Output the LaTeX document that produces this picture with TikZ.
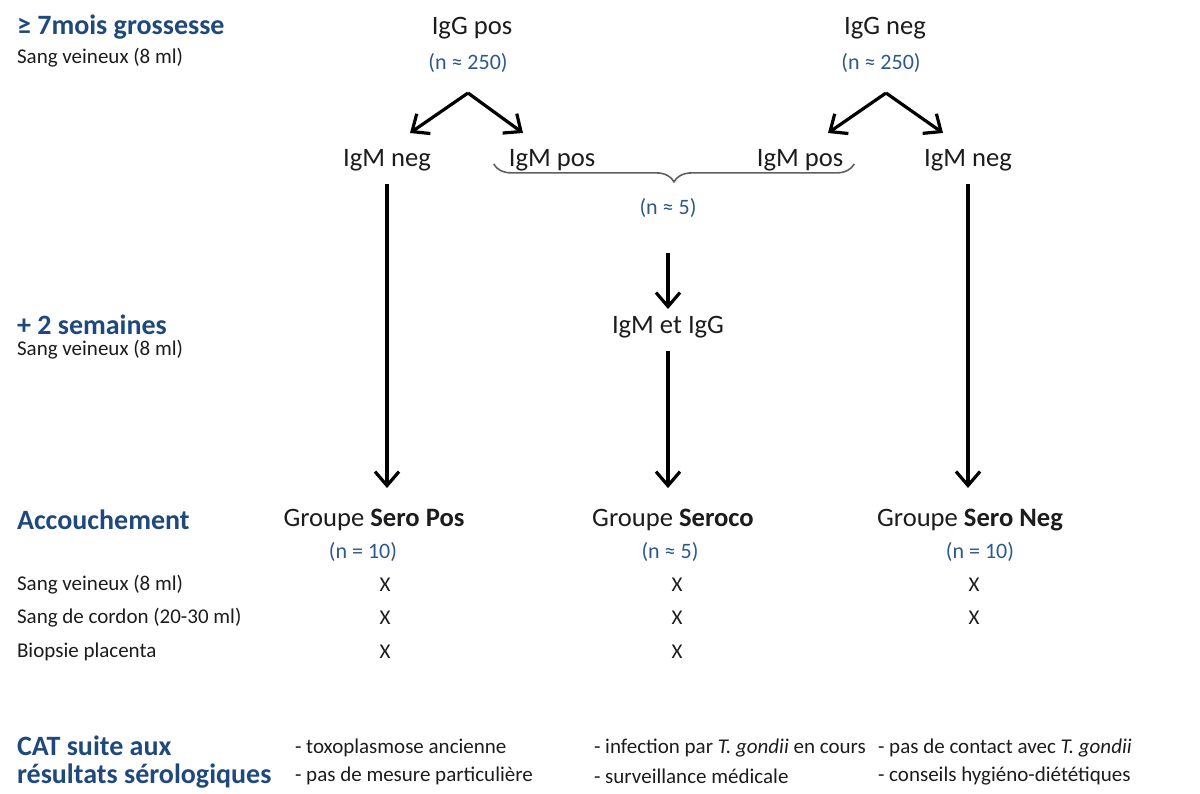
\documentclass[tikz,border=0pt]{standalone}
\usepackage{fontspec}
\setmainfont{Carlito}
\usepackage{tikz}
\usetikzlibrary{arrows.meta,decorations.pathreplacing}
\definecolor{TitleBlue}{RGB}{31,73,125}
\definecolor{CountBlue}{RGB}{45,88,140}
\definecolor{InkGrey}{RGB}{28,28,28}
\definecolor{BraceGrey}{RGB}{95,95,95}
\newcommand{\prelev}[3]{\node (mark-#1) at (#2,#3) {X};}

\begin{document}
\begin{tikzpicture}[x=0.5pt,y=-0.5pt,font=\fontsize{10.5}{12}\selectfont,
  every node/.style={text=InkGrey},
  lefthead/.style={anchor=west,font=\fontsize{14}{16}\selectfont\bfseries,text=TitleBlue},
  leftnote/.style={anchor=west},
  result/.style={font=\fontsize{13.3}{15}\selectfont},
  count/.style={font=\fontsize{11}{13}\selectfont,text=CountBlue},
  fork/.style={line width=1.6pt,-{Straight Barb[length=7pt,width=12pt]}}]
\useasboundingbox (0,0) rectangle (1200,793);
% left column
\node[lefthead] (h-grossesse) at (10,27) {≥ 7mois grossesse};
\node[leftnote] (s-grossesse) at (10,58) {Sang veineux (8 ml)};
\node[lefthead] (h-semaines) at (10,325) {+ 2 semaines};
\node[leftnote] (s-semaines) at (10,350) {Sang veineux (8 ml)};
\node[lefthead] (h-accouch) at (10,520) {Accouchement};
\node[leftnote] (r-veineux) at (10,585) {Sang veineux (8 ml)};
\node[leftnote] (r-cordon) at (10,618) {Sang de cordon (20-30 ml)};
\node[leftnote] (r-biopsie) at (10,652) {Biopsie placenta};
\node[lefthead] (h-cat) at (10,746) {CAT suite aux};
\node[lefthead] (h-resultats) at (10,776) {résultats sérologiques};
% first test
\node[result] (igg-pos) at (472,28) {IgG pos};
\node[count] (n-pos) at (468,63) {(n ≈ 250)};
\node[result] (igg-neg) at (885,28) {IgG neg};
\node[count] (n-neg) at (881,63) {(n ≈ 250)};
\node[result] (igm-negL) at (387,160) {IgM neg};
\node[result] (igm-posL) at (552,160) {IgM pos};
\node[result] (igm-posR) at (800,160) {IgM pos};
\node[result] (igm-negR) at (968,160) {IgM neg};
\coordinate (fork-pos) at (468,93);
\coordinate (fork-neg) at (886,93);
\coordinate (to-negL) at (410,133);
\coordinate (to-posL) at (523,133);
\coordinate (to-posR) at (828,133);
\coordinate (to-negR) at (943,133);
\foreach \a/\b in {fork-pos/to-negL,fork-pos/to-posL,fork-neg/to-posR,fork-neg/to-negR}
  \draw[fork] (\a) -- (\b);
\draw[BraceGrey,line width=0.8pt,decorate,decoration={brace,mirror,amplitude=9pt}]
  ([xshift=-4pt,yshift=7pt]igm-posL.south west) -- ([xshift=2pt,yshift=7pt]igm-posR.south east);
\node[count] (n-five) at (668,208) {(n ≈ 5)};
% second test
\node[result] (igm-igg) at (668,327) {IgM et IgG};
\draw[fork,shorten <=14pt] (n-five) -- (igm-igg);
% groups
\node[result] (grp-pos) at (374,520) {Groupe \textbf{Sero Pos}};
\node[result] (grp-seroco) at (673,520) {Groupe \textbf{Seroco}};
\node[result] (grp-neg) at (970,520) {Groupe \textbf{Sero Neg}};
\draw[fork,shorten <=3pt,shorten >=7pt] (igm-negL.south) -- (igm-negL.south |- grp-pos.north);
\draw[fork,shorten <=3pt,shorten >=7pt] (igm-igg.south) -- (igm-igg.south |- grp-seroco.north);
\draw[fork,shorten <=3pt,shorten >=7pt] (igm-negR.south) -- (igm-negR.south |- grp-neg.north);
\node[count] (n-grp-pos) at (363,552) {(n = 10)};
\node[count] (n-grp-seroco) at (670,552) {(n ≈ 5)};
\node[count] (n-grp-neg) at (980,552) {(n = 10)};
\foreach \x/\y [count=\i] in {385/585,385/618,385/652,677/585,677/618,677/652,974/585,974/618}
  {\prelev{\i}{\x}{\y}}
% CAT
\node[leftnote] (cat-pos1) at (288,748) {- toxoplasmose ancienne};
\node[leftnote] (cat-pos2) at (288,776) {- pas de mesure particulière};
\node[leftnote] (cat-sc1) at (587,748) {- infection par \textit{T. gondii} en cours};
\node[leftnote] (cat-sc2) at (587,776) {- surveillance médicale};
\node[leftnote] (cat-neg1) at (871,748) {- pas de contact avec \textit{T. gondii}};
\node[leftnote] (cat-neg2) at (871,776) {- conseils hygiéno-diététiques};
\end{tikzpicture}
\end{document}
